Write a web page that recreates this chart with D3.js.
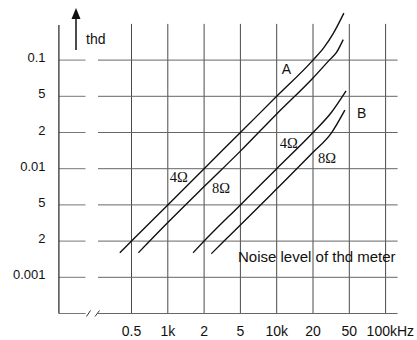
<!DOCTYPE html>
<html>
<head>
<meta charset="utf-8">
<script src="https://cdn.jsdelivr.net/npm/d3@7"></script>
<style>
  html, body { margin: 0; padding: 0; background: #fff; }
  svg { display: block; }
  text { font-family: "Liberation Sans", Arial, Helvetica, sans-serif; fill: #111; }
</style>
</head>
<body>
<svg id="chart" width="417" height="340"></svg>
<script>
// ---- data ----
const freqTicks  = [0.5, 1, 2, 5, 10, 20, 50, 100];            // kHz
const freqLabels = ["0.5", "1k", "2", "5", "10k", "20", "50", "100kHz"];
const thdTicks   = [0.001, 0.002, 0.005, 0.01, 0.02, 0.05, 0.1];
const thdLabels  = ["0.001", "2", "5", "0.01", "2", "5", "0.1"];
const thdBottom  = 0.0005;   // unlabeled bottom edge
const thdTop     = 0.2;      // unlabeled top edge

// curves: [frequency kHz, thd]
const curveA4 = [[0.4,0.0016],[0.5,0.002],[1,0.005],[2,0.01],[5,0.02],[10,0.05],[20,0.1],[26.3,0.127],[33.4,0.167],[43.6,0.246]];
const curveA8 = [[0.57,0.0016],[1,0.0032],[2,0.0071],[5,0.014],[10,0.032],[20,0.071],[30.2,0.1],[36.2,0.116],[42.9,0.148]];
const curveB4 = [[1.62,0.0016],[2,0.002],[5,0.005],[10,0.01],[20,0.02],[31.6,0.033],[46.1,0.0555]];
const curveB8 = [[2.4,0.00157],[3.31,0.002],[5,0.003],[10,0.0068],[20,0.0137],[31.6,0.0197],[44.7,0.0353]];

const curveLabels = [
  {text: "4Ω", at: [1.04, 0.0077]},
  {text: "8Ω", at: [2.44, 0.0063]},
  {text: "4Ω", at: [10.6, 0.0148]},
  {text: "8Ω", at: [22.7, 0.0112]}
];
const groupLabels = [
  {text: "A", at: [11, 0.0763]},
  {text: "B", at: [57.8, 0.0289]}
];
const noteText = "Noise level of thd meter";

// ---- layout ----
const svg = d3.select("#chart");
const x0 = 131.5, xStep = 36.3;
const yBase = 277.3, yStep = 36.2;

const x = d3.scaleLog()
  .domain(freqTicks)
  .range(freqTicks.map((d, i) => x0 + i * xStep));

const yDomain = [thdBottom, ...thdTicks, thdTop];
const y = d3.scaleLog()
  .domain(yDomain)
  .range(yDomain.map((d, i) => yBase - (i - 1) * yStep));

const xLeft = x0 - 2 * xStep;        // left axis
const xRight = x(100) + 12;          // end of horizontal rules
const gapL = 85.5, gapR = 98;        // axis break
const yTopLine = y(thdTop);
const yBot = y(thdBottom);

const grid = svg.append("g").attr("stroke", "#4a4a4a").attr("stroke-width", 1).attr("fill", "none");

// vertical grid lines
grid.selectAll("line.v").data(freqTicks).join("line")
  .attr("x1", d => x(d)).attr("x2", d => x(d))
  .attr("y1", yTopLine).attr("y2", yBot);

// horizontal grid lines (with break)
const hVals = [...thdTicks, thdBottom];
grid.selectAll("line.hl").data(hVals).join("line")
  .attr("x1", xLeft).attr("x2", gapL)
  .attr("y1", d => y(d)).attr("y2", d => y(d))
  .attr("stroke", "#777");
grid.selectAll("line.hr").data(hVals).join("line")
  .attr("x1", gapR).attr("x2", xRight)
  .attr("y1", d => y(d)).attr("y2", d => y(d))
  .attr("stroke", "#666");

// left axis
svg.append("line")
  .attr("x1", xLeft).attr("x2", xLeft)
  .attr("y1", y(thdTop) + 1).attr("y2", yBot)
  .attr("stroke", "#222").attr("stroke-width", 1.2);

// break marks
[[86.5, 90.5], [95, 99.5]].forEach(([a, b]) => {
  svg.append("line")
    .attr("x1", a).attr("y1", yBot + 3)
    .attr("x2", b).attr("y2", yBot - 3)
    .attr("stroke", "#333").attr("stroke-width", 1);
});

// y arrow + label
const ax = 76;
svg.append("line").attr("x1", ax).attr("x2", ax).attr("y1", 50).attr("y2", 17)
  .attr("stroke", "#111").attr("stroke-width", 1.5);
svg.append("path").attr("d", `M${ax},8 L${ax - 4.5},19 L${ax + 4.5},19 Z`).attr("fill", "#111");
svg.append("text").attr("x", 86).attr("y", 44).attr("font-size", 14).text("thd");

// y tick labels
svg.selectAll("text.yl").data(thdTicks).join("text")
  .attr("x", 45.5).attr("y", d => y(d) + 2)
  .attr("text-anchor", "end").attr("font-size", 13)
  .text((d, i) => thdLabels[i]);

// x tick labels
svg.selectAll("text.xl").data(freqTicks).join("text")
  .attr("x", (d, i) => i === freqTicks.length - 1 ? x(d) - 19 : x(d))
  .attr("y", 336)
  .attr("text-anchor", (d, i) => i === freqTicks.length - 1 ? "start" : "middle")
  .attr("font-size", 14)
  .text((d, i) => freqLabels[i]);

// curves
const line = d3.line().x(d => x(d[0])).y(d => y(d[1])).curve(d3.curveMonotoneX);
svg.selectAll("path.c").data([curveA4, curveA8, curveB4, curveB8]).join("path")
  .attr("d", line)
  .attr("fill", "none").attr("stroke", "#111").attr("stroke-width", 1.4);

// curve labels
svg.selectAll("text.cl").data(curveLabels).join("text")
  .style("font-family", "'Liberation Serif', 'Times New Roman', serif")
  .attr("x", d => x(d.at[0])).attr("y", d => y(d.at[1]))
  .attr("font-size", 14.5)
  .text(d => d.text);

svg.selectAll("text.gl").data(groupLabels).join("text")
  .attr("x", d => x(d.at[0])).attr("y", d => y(d.at[1]))
  .attr("font-size", 14)
  .text(d => d.text);

// note
svg.append("text").attr("x", 238).attr("y", 262).attr("font-size", 15).text(noteText);
</script>
</body>
</html>
